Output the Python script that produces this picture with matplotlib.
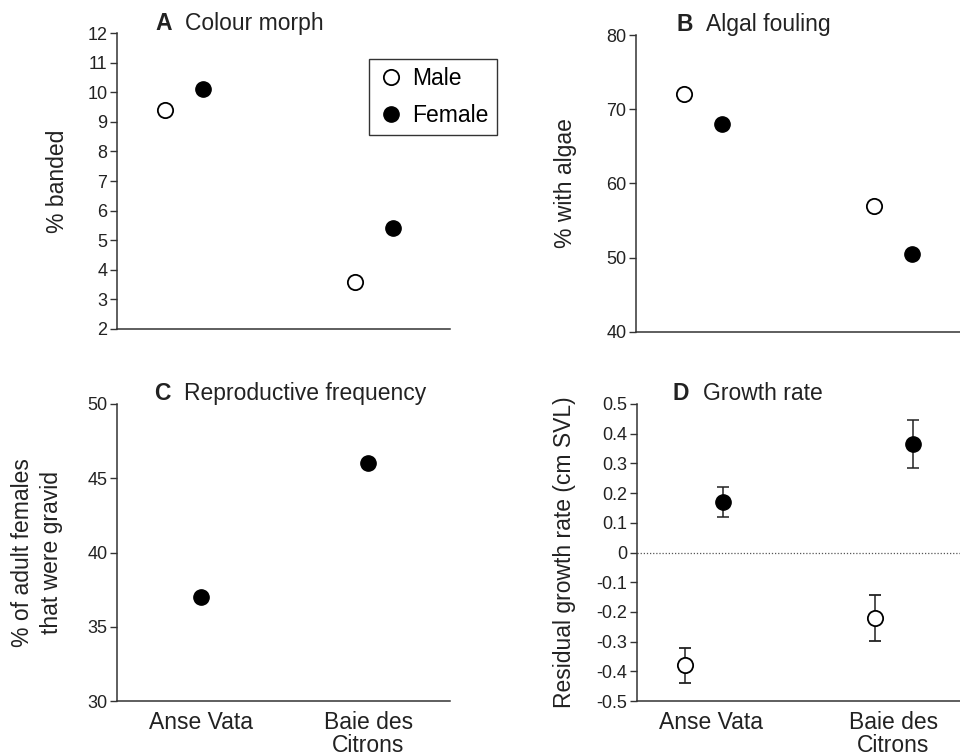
import matplotlib
matplotlib.use('Agg')
import matplotlib.pyplot as plt
import numpy as np

plt.rcParams['font.family'] = ['Liberation Sans', 'DejaVu Sans']
plt.rcParams['axes.unicode_minus'] = False

# data
sites = ['Anse Vata', 'Baie des\nCitrons']
banded_male = [9.4, 3.6]
banded_female = [10.1, 5.4]
algae_male = [72, 57]
algae_female = [68, 50.5]
gravid_female = [37, 46]
growth_male = [-0.38, -0.22]
growth_male_se = [0.06, 0.078]
growth_female = [0.17, 0.365]
growth_female_se = [0.05, 0.08]

ink = '#222222'
W, H = 960, 756
fig = plt.figure(figsize=(9.6, 7.56), dpi=100)

def px_axes(l, r, t, b):
    return fig.add_axes([l / W, 1 - b / H, (r - l) / W, (b - t) / H])

axA = px_axes(117, 450, 33, 329)
axB = px_axes(636, 960, 35, 332)
axC = px_axes(117, 450, 404, 701)
axD = px_axes(637, 960, 404, 701)

x = np.arange(len(sites))
off = 0.1
open_kw = dict(marker='o', ms=11, mfc='white', mec='black', mew=1.3, ls='none')
fill_kw = dict(marker='o', ms=11, mfc='black', mec='black', ls='none')

# A
axA.plot(x - off, banded_male, label='Male', **open_kw)
axA.plot(x + off, banded_female, label='Female', **fill_kw)
axA.set_ylim(2, 12)
axA.set_yticks(np.arange(2, 13, 1))
axA.set_xlim(-0.35, 1.4)
axA.set_ylabel('% banded')
axA.yaxis.set_label_coords(-0.18, 0.5)
leg = axA.legend(loc='upper right', bbox_to_anchor=(497 / W, 1 - 59 / H),
                 bbox_transform=fig.transFigure, borderaxespad=0,
                 fontsize=16.5, frameon=True, fancybox=False, edgecolor='black',
                 handlelength=1.2, handletextpad=0.35, borderpad=0.35,
                 labelspacing=0.6)
leg.get_frame().set_linewidth(1.0)

# B
axB.plot(x - off, algae_male, **open_kw)
axB.plot(x + off, algae_female, **fill_kw)
axB.set_ylim(40, 80)
axB.set_yticks(np.arange(40, 81, 10))
axB.set_xlim(-0.35, 1.35)
axB.set_ylabel('% with algae')
axB.yaxis.set_label_coords(-0.219, 0.5)

# C
cx = [0.09, 0.97]
axC.plot(cx, gravid_female, **fill_kw)
axC.set_ylim(30, 50)
axC.set_yticks(np.arange(30, 51, 5))
axC.set_xlim(-0.35, 1.4)
axC.set_xticks(cx)
axC.set_xticklabels(sites, linespacing=1.0)
axC.set_ylabel('% of adult females\nthat were gravid', linespacing=1.35)
axC.yaxis.set_label_coords(-0.24, 0.5)

# D
axD.axhline(0, color='#555555', lw=0.9, ls=(0, (1, 1.5)))
axD.errorbar(x - off, growth_male, yerr=growth_male_se, fmt='o', ms=11,
             mfc='white', mec='black', mew=1.3, ecolor=ink, elinewidth=1.1,
             capsize=4, capthick=1.1)
axD.errorbar(x + off, growth_female, yerr=growth_female_se, fmt='o', ms=11,
             mfc='black', mec='black', ecolor=ink, elinewidth=1.1,
             capsize=4, capthick=1.1)
axD.set_ylim(-0.5, 0.5)
dt = np.round(np.arange(-0.5, 0.51, 0.1), 1)
axD.set_yticks(dt)
axD.set_yticklabels(['0' if v == 0 else f'{v:.1f}' for v in dt])
axD.set_xlim(-0.35, 1.35)
axD.set_xticks([0.04, 1.0])
axD.set_xticklabels(sites, linespacing=1.0)
axD.set_ylabel('Residual growth rate (cm SVL)')
axD.yaxis.set_label_coords(-0.223, 0.5)

for ax in (axA, axB, axC, axD):
    for s in ('top', 'right'):
        ax.spines[s].set_visible(False)
    for s in ('left', 'bottom'):
        ax.spines[s].set_color('#333333')
        ax.spines[s].set_linewidth(1.1)
    ax.tick_params(axis='y', length=5, width=1, color='#333333', pad=2,
                   labelsize=13, labelcolor=ink)
    ax.tick_params(axis='x', length=0, pad=7, labelsize=16.5, labelcolor=ink)
    ax.yaxis.label.set_size(16.5)
    ax.yaxis.label.set_color(ink)
    ax.yaxis.label.set_va('center')
for ax in (axA, axB):
    ax.set_xticks([])

# panel titles
titles = [('A', 'Colour morph', 155, 185, 30),
          ('B', 'Algal fouling', 676, 706, 31),
          ('C', 'Reproductive frequency', 154, 184, 400),
          ('D', 'Growth rate', 673, 703, 400)]
for letter, name, lx, tx, by in titles:
    fig.text(lx / W, 1 - by / H, letter, fontsize=16.5, fontweight='heavy',
             color=ink, va='baseline')
    fig.text(tx / W, 1 - by / H, name, fontsize=16.5, color=ink, va='baseline')

fig.savefig('out.png', dpi=100)
